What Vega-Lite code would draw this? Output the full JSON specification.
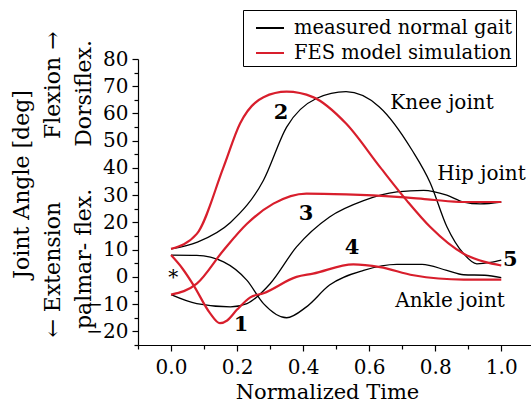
{
  "$schema": "https://vega.github.io/schema/vega-lite/v6.json",
  "autosize": "none",
  "width": 393,
  "height": 286,
  "padding": {"left": 138, "top": 59, "right": 0, "bottom": 60},
  "background": "white",
  "datasets": {
    "curves": [
      {"joint": "Knee", "source": "measured normal gait", "t": 0.0, "v": 10.3},
      {"joint": "Knee", "source": "measured normal gait", "t": 0.08, "v": 12.8},
      {"joint": "Knee", "source": "measured normal gait", "t": 0.18, "v": 20},
      {"joint": "Knee", "source": "measured normal gait", "t": 0.28, "v": 35.5},
      {"joint": "Knee", "source": "measured normal gait", "t": 0.35, "v": 55},
      {"joint": "Knee", "source": "measured normal gait", "t": 0.44, "v": 65.5},
      {"joint": "Knee", "source": "measured normal gait", "t": 0.53, "v": 68},
      {"joint": "Knee", "source": "measured normal gait", "t": 0.63, "v": 62.5},
      {"joint": "Knee", "source": "measured normal gait", "t": 0.73, "v": 46.5},
      {"joint": "Knee", "source": "measured normal gait", "t": 0.785, "v": 34.5},
      {"joint": "Knee", "source": "measured normal gait", "t": 0.835, "v": 18.5},
      {"joint": "Knee", "source": "measured normal gait", "t": 0.886, "v": 8.5},
      {"joint": "Knee", "source": "measured normal gait", "t": 0.926, "v": 4.8},
      {"joint": "Knee", "source": "measured normal gait", "t": 0.967, "v": 5.3},
      {"joint": "Knee", "source": "measured normal gait", "t": 1.0, "v": 6.2},

      {"joint": "Hip", "source": "measured normal gait", "t": 0.0, "v": -6.5},
      {"joint": "Hip", "source": "measured normal gait", "t": 0.078, "v": -9.8},
      {"joint": "Hip", "source": "measured normal gait", "t": 0.18, "v": -11},
      {"joint": "Hip", "source": "measured normal gait", "t": 0.23, "v": -9.8},
      {"joint": "Hip", "source": "measured normal gait", "t": 0.3, "v": -2.5},
      {"joint": "Hip", "source": "measured normal gait", "t": 0.38, "v": 11},
      {"joint": "Hip", "source": "measured normal gait", "t": 0.48, "v": 22},
      {"joint": "Hip", "source": "measured normal gait", "t": 0.583, "v": 28},
      {"joint": "Hip", "source": "measured normal gait", "t": 0.684, "v": 31.2},
      {"joint": "Hip", "source": "measured normal gait", "t": 0.765, "v": 31.8},
      {"joint": "Hip", "source": "measured normal gait", "t": 0.835, "v": 30},
      {"joint": "Hip", "source": "measured normal gait", "t": 0.886, "v": 27.5},
      {"joint": "Hip", "source": "measured normal gait", "t": 0.936, "v": 26.8},
      {"joint": "Hip", "source": "measured normal gait", "t": 1.0, "v": 27.5},

      {"joint": "Ankle", "source": "measured normal gait", "t": 0.0, "v": 8},
      {"joint": "Ankle", "source": "measured normal gait", "t": 0.078, "v": 7.9},
      {"joint": "Ankle", "source": "measured normal gait", "t": 0.159, "v": 5.5},
      {"joint": "Ankle", "source": "measured normal gait", "t": 0.23, "v": -1.3},
      {"joint": "Ankle", "source": "measured normal gait", "t": 0.28, "v": -9.8},
      {"joint": "Ankle", "source": "measured normal gait", "t": 0.35, "v": -15},
      {"joint": "Ankle", "source": "measured normal gait", "t": 0.41, "v": -11},
      {"joint": "Ankle", "source": "measured normal gait", "t": 0.48, "v": -3},
      {"joint": "Ankle", "source": "measured normal gait", "t": 0.583, "v": 2.4},
      {"joint": "Ankle", "source": "measured normal gait", "t": 0.684, "v": 4.6},
      {"joint": "Ankle", "source": "measured normal gait", "t": 0.76, "v": 4.6},
      {"joint": "Ankle", "source": "measured normal gait", "t": 0.835, "v": 2.4},
      {"joint": "Ankle", "source": "measured normal gait", "t": 0.886, "v": 0.8},
      {"joint": "Ankle", "source": "measured normal gait", "t": 0.95, "v": 0.6},
      {"joint": "Ankle", "source": "measured normal gait", "t": 1.0, "v": -0.3},

      {"joint": "Knee", "source": "FES model simulation", "t": 0.0, "v": 10.3},
      {"joint": "Knee", "source": "FES model simulation", "t": 0.078, "v": 15.8},
      {"joint": "Knee", "source": "FES model simulation", "t": 0.159, "v": 40.3},
      {"joint": "Knee", "source": "FES model simulation", "t": 0.209, "v": 56.3},
      {"joint": "Knee", "source": "FES model simulation", "t": 0.28, "v": 66},
      {"joint": "Knee", "source": "FES model simulation", "t": 0.35, "v": 68},
      {"joint": "Knee", "source": "FES model simulation", "t": 0.43, "v": 66},
      {"joint": "Knee", "source": "FES model simulation", "t": 0.53, "v": 56.3},
      {"joint": "Knee", "source": "FES model simulation", "t": 0.633, "v": 40.3},
      {"joint": "Knee", "source": "FES model simulation", "t": 0.714, "v": 28},
      {"joint": "Knee", "source": "FES model simulation", "t": 0.785, "v": 18.3},
      {"joint": "Knee", "source": "FES model simulation", "t": 0.886, "v": 8.5},
      {"joint": "Knee", "source": "FES model simulation", "t": 0.95, "v": 5.5},
      {"joint": "Knee", "source": "FES model simulation", "t": 1.0, "v": 4.2},

      {"joint": "Hip", "source": "FES model simulation", "t": 0.0, "v": -6.5},
      {"joint": "Hip", "source": "FES model simulation", "t": 0.078, "v": -2.5},
      {"joint": "Hip", "source": "FES model simulation", "t": 0.159, "v": 9.8},
      {"joint": "Hip", "source": "FES model simulation", "t": 0.23, "v": 19.5},
      {"joint": "Hip", "source": "FES model simulation", "t": 0.31, "v": 26.9},
      {"joint": "Hip", "source": "FES model simulation", "t": 0.41, "v": 30.6},
      {"joint": "Hip", "source": "FES model simulation", "t": 0.53, "v": 30.3},
      {"joint": "Hip", "source": "FES model simulation", "t": 0.684, "v": 29.4},
      {"joint": "Hip", "source": "FES model simulation", "t": 0.785, "v": 28.4},
      {"joint": "Hip", "source": "FES model simulation", "t": 0.886, "v": 27.5},
      {"joint": "Hip", "source": "FES model simulation", "t": 1.0, "v": 27.5},

      {"joint": "Ankle", "source": "FES model simulation", "t": 0.0, "v": 8},
      {"joint": "Ankle", "source": "FES model simulation", "t": 0.035, "v": 3},
      {"joint": "Ankle", "source": "FES model simulation", "t": 0.068, "v": -3},
      {"joint": "Ankle", "source": "FES model simulation", "t": 0.118, "v": -13.3},
      {"joint": "Ankle", "source": "FES model simulation", "t": 0.148, "v": -17},
      {"joint": "Ankle", "source": "FES model simulation", "t": 0.17, "v": -16},
      {"joint": "Ankle", "source": "FES model simulation", "t": 0.2, "v": -12},
      {"joint": "Ankle", "source": "FES model simulation", "t": 0.24, "v": -7.5},
      {"joint": "Ankle", "source": "FES model simulation", "t": 0.28, "v": -6},
      {"joint": "Ankle", "source": "FES model simulation", "t": 0.38, "v": 0},
      {"joint": "Ankle", "source": "FES model simulation", "t": 0.43, "v": 1.2},
      {"joint": "Ankle", "source": "FES model simulation", "t": 0.552, "v": 4.6},
      {"joint": "Ankle", "source": "FES model simulation", "t": 0.633, "v": 3.6},
      {"joint": "Ankle", "source": "FES model simulation", "t": 0.734, "v": 0.6},
      {"joint": "Ankle", "source": "FES model simulation", "t": 0.886, "v": -1},
      {"joint": "Ankle", "source": "FES model simulation", "t": 1.0, "v": -1}
    ],
    "names": [
      {"label": "Knee joint", "t": 0.664, "v": 60.9},
      {"label": "Hip joint", "t": 0.806, "v": 35.0},
      {"label": "Ankle joint", "t": 0.679, "v": -11.8}
    ],
    "numbers": [
      {"label": "1", "t": 0.212, "v": -20.7},
      {"label": "2", "t": 0.333, "v": 57.4},
      {"label": "3", "t": 0.409, "v": 20.3},
      {"label": "4", "t": 0.548, "v": 7.7},
      {"label": "5", "t": 1.027, "v": 3.2}
    ],
    "marks": [
      {"label": "*", "t": 0.007, "v": -3.5}
    ]
  },
  "encoding": {
    "x": {
      "field": "t",
      "type": "quantitative",
      "scale": {"domain": [-0.1, 1.09], "nice": false, "zero": false},
      "axis": {
        "title": "Normalized Time",
        "values": [-0.1, 0, 0.1, 0.2, 0.3, 0.4, 0.5, 0.6, 0.7, 0.8, 0.9, 1.0],
        "labelExpr": "round(datum.value * 10) % 2 === 0 ? format(datum.value, '.1f') : ''",
        "tickSize": {"condition": {"test": "round(datum.value * 10) % 2 === 0", "value": 6}, "value": 4},
        "labelPadding": 6,
        "titleFontSize": 21,
        "titleX": 189,
        "titleY": 47,
        "titleBaseline": "middle"
      }
    },
    "y": {
      "field": "v",
      "type": "quantitative",
      "scale": {"domain": [-25, 80], "nice": false, "zero": false},
      "axis": {
        "title": [
          "Joint Angle [deg]",
          "← Extension\u00a0\u00a0\u00a0\u00a0\u00a0\u00a0\u00a0\u00a0\u00a0Flexion →\u00a0\u00a0",
          "\u00a0palmar- flex.\u00a0\u00a0\u00a0\u00a0\u00a0\u00a0Dorsiflex."
        ],
        "values": [-25, -20, -15, -10, -5, 0, 5, 10, 15, 20, 25, 30, 35, 40, 45, 50, 55, 60, 65, 70, 75, 80],
        "labelExpr": "datum.value % 10 === 0 ? format(datum.value, 'd') : ''",
        "tickSize": {"condition": {"test": "datum.value % 10 === 0", "value": 6}, "value": 4},
        "labelPadding": 4,
        "titleAngle": -90,
        "titleAlign": "center",
        "titleBaseline": "middle",
        "titleLineHeight": 31,
        "titleLimit": 400,
        "titleX": -117,
        "titleY": 125
      }
    }
  },
  "layer": [
    {
      "data": {"name": "curves"},
      "transform": [{"filter": "datum.source === 'measured normal gait'"}],
      "mark": {"type": "line", "interpolate": "monotone", "strokeWidth": 1.3},
      "encoding": {
        "detail": {"field": "joint"},
        "color": {
          "field": "source",
          "type": "nominal",
          "scale": {"domain": ["measured normal gait", "FES model simulation"], "range": ["#000000", "#d81e2c"]},
          "legend": {"title": null}
        }
      }
    },
    {
      "data": {"name": "curves"},
      "transform": [{"filter": "datum.source === 'FES model simulation'"}],
      "mark": {"type": "line", "interpolate": "monotone", "strokeWidth": 2.2},
      "encoding": {
        "detail": {"field": "joint"},
        "color": {"field": "source", "type": "nominal"}
      }
    },
    {
      "data": {"name": "names"},
      "mark": {"type": "text", "align": "left", "fontSize": 20, "font": "DejaVu Serif", "dy": -8},
      "encoding": {"text": {"field": "label"}}
    },
    {
      "data": {"name": "numbers"},
      "mark": {"type": "text", "align": "center", "fontSize": 21, "font": "DejaVu Serif", "fontWeight": "bold", "dy": -8},
      "encoding": {"text": {"field": "label"}}
    },
    {
      "data": {"name": "marks"},
      "mark": {"type": "text", "align": "center", "fontSize": 20, "font": "DejaVu Serif", "dy": -8},
      "encoding": {"text": {"field": "label"}}
    }
  ],
  "config": {
    "view": {"stroke": null},
    "axis": {
      "grid": false,
      "domainColor": "black",
      "domainWidth": 1.2,
      "tickColor": "black",
      "tickWidth": 1.2,
      "labelFont": "DejaVu Serif",
      "labelFontSize": 20,
      "labelColor": "black",
      "titleFont": "DejaVu Serif",
      "titleFontSize": 22,
      "titleFontWeight": "normal",
      "titleColor": "black",
      "labelOverlap": false,
      "labelFlush": false
    },
    "legend": {
      "orient": "none",
      "legendX": 105,
      "legendY": -49,
      "strokeColor": "black",
      "fillColor": "white",
      "padding": 3,
      "labelFont": "DejaVu Serif",
      "labelFontSize": 19.5,
      "labelColor": "black",
      "labelLimit": 0,
      "labelOffset": 9,
      "symbolOffset": 9,
      "symbolType": "stroke",
      "symbolSize": 784,
      "symbolStrokeWidth": 2,
      "rowPadding": -3
    }
  }
}
